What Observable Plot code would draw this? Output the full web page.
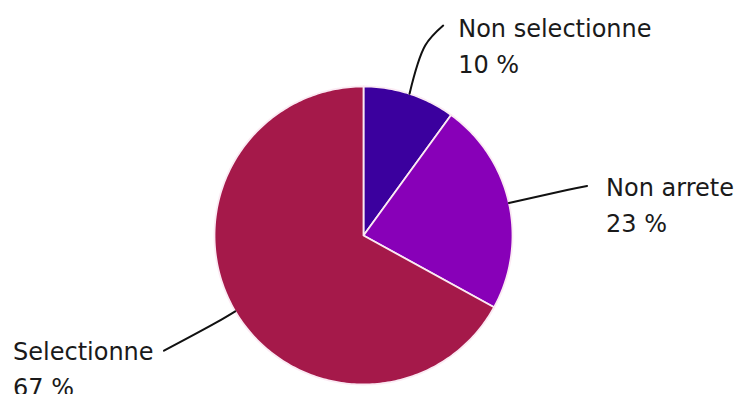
<!DOCTYPE html>
<html>
<head>
<meta charset="utf-8">
<script src="https://cdn.jsdelivr.net/npm/d3@7"></script>
<script src="https://cdn.jsdelivr.net/npm/@observablehq/plot@0.6"></script>
<style>
  html, body { margin: 0; padding: 0; background: #fff; overflow: hidden; }
</style>
</head>
<body>
<div id="chart"></div>
<script>
// ---- data ----
const categories = ["Non selectionne", "Non arrete", "Selectionne"];
const values = [10, 23, 67];
const percentLabels = ["10 %", "23 %", "67 %"];
const colors = ["#3b009e", "#8800b8", "#a5194a"];

// ---- layout ----
const W = 737, H = 394;
const CX = 363, CY = 235, R = 149; // pixel centre & radius
// leader: r1 = radial extension (in radii), ex/ey = end offset (px), tx/ty = text offset (px)
const leaderLayout = [
  {r1: 1.34, ex: 18, ey: -20, tx: 15, ty: 4},
  {r1: 1.40, ex: 20, ey: -4, tx: 19, ty: 2},
  {r1: 1.15, ex: -52, ey: 28, tx: -151, ty: 2}
];
const LINE_GAP = 36;

const total = d3.sum(values);
let acc = 0;
const slices = categories.map((name, i) => {
  const a0 = acc / total * 2 * Math.PI;
  acc += values[i];
  const a1 = acc / total * 2 * Math.PI;
  return {name, value: values[i], label: percentLabels[i], color: colors[i], a0, a1, mid: (a0 + a1) / 2, layout: leaderLayout[i]};
});

// polygon for each slice (centre + arc samples)
function slicePoints(s) {
  const pts = [{x: 0, y: 0}];
  const n = Math.max(2, Math.ceil((s.a1 - s.a0) / (Math.PI / 180)));
  for (let k = 0; k <= n; k++) {
    const a = s.a0 + (s.a1 - s.a0) * k / n;
    pts.push({x: Math.sin(a), y: Math.cos(a)});
  }
  return pts;
}

// leader points
function leaderPoints(s) {
  const L = s.layout;
  const p0 = {x: Math.sin(s.mid), y: Math.cos(s.mid)};
  const p1 = {x: L.r1 * Math.sin(s.mid), y: L.r1 * Math.cos(s.mid)};
  const p2 = {x: p1.x + L.ex / R, y: p1.y - L.ey / R};
  return [p0, p1, p2];
}

const labelData = slices.map(s => {
  const end = leaderPoints(s)[2];
  return {name: s.name, label: s.label, x: end.x + s.layout.tx / R, y: end.y - s.layout.ty / R};
});

const marks = [];
slices.forEach(s => {
  marks.push(Plot.line(slicePoints(s), {
    x: "x", y: "y", fill: s.color, stroke: "#fbeaf3", strokeWidth: 1.8,
    strokeLinejoin: "round", curve: "linear-closed"
  }));
});
slices.forEach(s => {
  marks.push(Plot.line(leaderPoints(s), {
    x: "x", y: "y", stroke: "#111", strokeWidth: 2, curve: "catmull-rom"
  }));
});
marks.push(Plot.text(labelData, {
  x: "x", y: "y", text: "name", textAnchor: "start", lineAnchor: "middle",
  fontSize: 24, fontFamily: "DejaVu Sans", fill: "#1a1a1a"
}));
marks.push(Plot.text(labelData, {
  x: "x", y: "y", text: "label", textAnchor: "start", lineAnchor: "middle", dy: LINE_GAP,
  fontSize: 24, fontFamily: "DejaVu Sans", fill: "#1a1a1a"
}));

const chart = Plot.plot({
  width: W, height: H, margin: 0,
  x: {domain: [-CX / R, (W - CX) / R], axis: null},
  y: {domain: [-(H - CY) / R, CY / R], axis: null},
  style: {background: "#fff", overflow: "visible"},
  marks
});
document.getElementById("chart").appendChild(chart);
</script>
</body>
</html>
